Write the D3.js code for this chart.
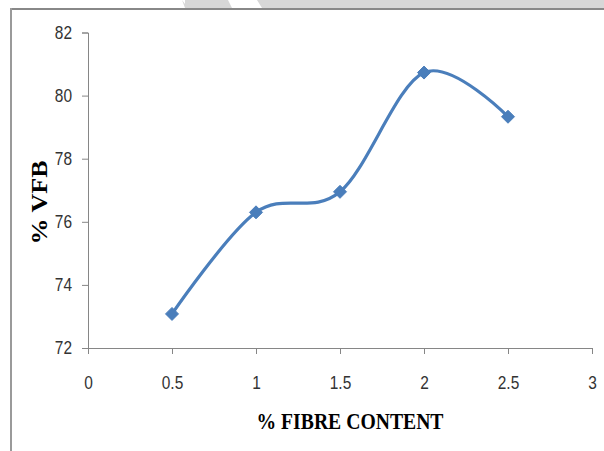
<!DOCTYPE html>
<html>
<head>
<meta charset="utf-8">
<script src="https://d3js.org/d3.v7.min.js"></script>
<style>
  html, body { margin: 0; padding: 0; background: #fff; }
  svg { display: block; }
</style>
</head>
<body>
<svg id="chart" width="604" height="451"></svg>
<script>
// Fibre content (%) against voids filled with bitumen (%)
const fibreContent = [0.5, 1.0, 1.5, 2.0, 2.5];
const vfbValues = [73.08, 76.3, 76.95, 80.73, 79.33];
const xTicks = [0, 0.5, 1, 1.5, 2, 2.5, 3];
const yTicks = [72, 74, 76, 78, 80, 82];
const xTitle = "% FIBRE CONTENT";
const yTitle = "% VFB";

const svg = d3.select("#chart");
const W = 604, H = 451;

// page frame: grey strip along the top, rule lines for the chart box
const frame = svg.append("g");
frame.append("rect").attr("x", 185).attr("y", 0).attr("width", W - 185).attr("height", 8).attr("fill", "#d7d7d7");
frame.append("path")
  .attr("d", "M182,0 L188,8 L185,8 Z").attr("fill", "#d7d7d7");
frame.append("path")
  .attr("d", "M228,0 L257,0 L262,8 L232,8 Z").attr("fill", "#ffffff");
frame.append("rect").attr("x", 10).attr("y", 8).attr("width", W - 10).attr("height", 2).attr("fill", "#888888");
frame.append("rect").attr("x", 10).attr("y", 8).attr("width", 2).attr("height", H - 8).attr("fill", "#9a9a9a");

const x = d3.scaleLinear().domain([0, 3]).range([88, 592]);
const y = d3.scaleLinear().domain([72, 82]).range([348, 32.5]);

const axisColor = "#868686";
const tickFont = "'Liberation Sans', Arial, sans-serif";
const squeeze = 0.86;

// y axis
const yAxis = svg.append("g")
  .attr("transform", `translate(${x(0)},0)`)
  .call(d3.axisLeft(y).tickValues(yTicks).tickSize(6).tickPadding(9).tickFormat(d3.format("d")));
// x axis
const xAxis = svg.append("g")
  .attr("transform", `translate(0,${y(72)})`)
  .call(d3.axisBottom(x).tickValues(xTicks).tickSize(6).tickPadding(22).tickFormat(d => String(d)));

[yAxis, xAxis].forEach(g => {
  g.select(".domain").attr("stroke", axisColor).attr("stroke-width", 1);
  g.selectAll(".tick line").attr("stroke", axisColor);
  g.selectAll(".tick text")
    .attr("fill", "#333333")
    .style("font-family", tickFont)
    .style("font-size", "18px");
});
// narrow tick digits
yAxis.selectAll(".tick text")
  .attr("x", -16 / squeeze)
  .attr("transform", `scale(${squeeze},1)`);
xAxis.selectAll(".tick text")
  .attr("transform", `scale(${squeeze},1)`);

// smoothed series line
const line = d3.line()
  .x((d, i) => x(fibreContent[i]))
  .y(d => y(d))
  .curve(d3.curveCardinal.tension(0));

svg.append("path")
  .datum(vfbValues)
  .attr("d", line)
  .attr("fill", "none")
  .attr("stroke", "#4a7ebb")
  .attr("stroke-width", 3.2)
  .attr("stroke-linecap", "round");

// diamond markers
svg.append("g").selectAll("path")
  .data(vfbValues)
  .join("path")
  .attr("transform", (d, i) => `translate(${x(fibreContent[i])},${y(d)})`)
  .attr("d", "M0,-6.5 L6.5,0 L0,6.5 L-6.5,0 Z")
  .attr("fill", "#4a7ebb")
  .attr("stroke", "#4a7ebb")
  .attr("stroke-width", 1);

// axis titles
svg.append("text")
  .attr("x", 350).attr("y", 428.5)
  .attr("text-anchor", "middle")
  .attr("textLength", 187)
  .attr("lengthAdjust", "spacingAndGlyphs")
  .style("font-family", "'Liberation Serif', 'Times New Roman', serif")
  .style("font-weight", "bold")
  .style("font-size", "23px")
  .attr("fill", "#000")
  .text(xTitle);

svg.append("text")
  .attr("transform", "translate(46.5,202.5) rotate(-90)")
  .attr("text-anchor", "middle")
  .attr("textLength", 84)
  .attr("lengthAdjust", "spacingAndGlyphs")
  .style("font-family", "'Liberation Serif', 'Times New Roman', serif")
  .style("font-weight", "bold")
  .style("font-size", "23px")
  .attr("fill", "#000")
  .text(yTitle);
</script>
</body>
</html>
